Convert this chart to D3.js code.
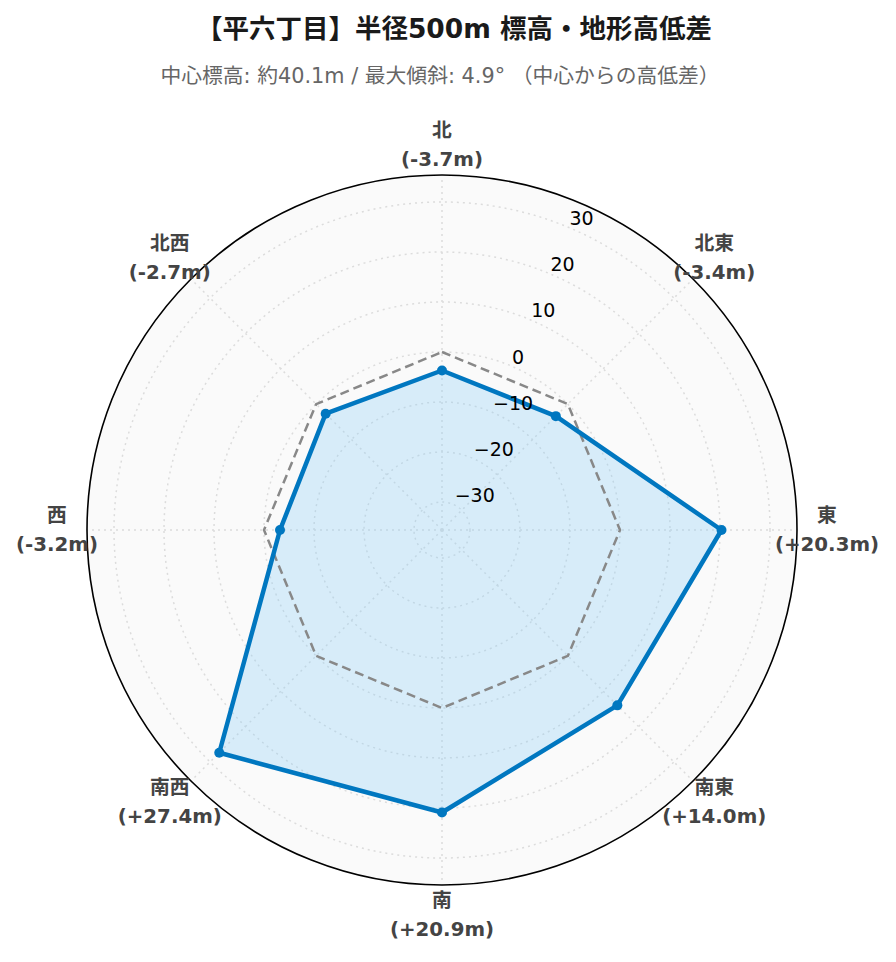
<!DOCTYPE html>
<html>
<head>
<meta charset="utf-8">
<script src="https://cdn.jsdelivr.net/npm/d3@7"></script>
<style>
  html, body { margin: 0; padding: 0; background: #ffffff; }
  svg { display: block; }
</style>
</head>
<body>
<div id="chart"></div>
<script>
// ---- data ----
const titleText = "【平六丁目】半径500m 標高・地形高低差";
const subtitleText = "中心標高: 約40.1m / 最大傾斜: 4.9° （中心からの高低差）";
const directions = ["北", "北東", "東", "南東", "南", "南西", "西", "北西"];
const diffs = [-3.7, -3.4, 20.3, 14.0, 20.9, 27.4, -3.2, -2.7];
const reference = [0, 0, 0, 0, 0, 0, 0, 0];
const radialTicks = [-30, -20, -10, 0, 10, 20, 30];
const radialRange = [-35.6, 35.4];

// ---- layout ----
const W = 896, H = 962;
const cx = 442, cy = 530, R = 355;
const labelR = 385;
const tickAngle = 22.5;
const FONT = "'DejaVu Sans', 'Noto Sans CJK JP', sans-serif";

const svg = d3.select("#chart").append("svg")
  .attr("width", W).attr("height", H);

const r = d3.scaleLinear().domain(radialRange).range([0, R]);
const angle = d3.scalePoint().domain(directions).range([0, 360 - 360 / directions.length]);
const rad = d => (d - 90) * Math.PI / 180;
const px = (dir, v) => cx + r(v) * Math.cos(rad(angle(dir)));
const py = (dir, v) => cy + r(v) * Math.sin(rad(angle(dir)));

// title
svg.append("text")
  .attr("x", 454).attr("y", 28)
  .attr("text-anchor", "middle").attr("dominant-baseline", "central")
  .style("font-family", FONT)
  .style("font-weight", "bold").style("font-size", "26.5px").style("fill", "#1a1a1a")
  .text(titleText);
svg.append("text")
  .attr("x", 440).attr("y", 76)
  .attr("text-anchor", "middle").attr("dominant-baseline", "central")
  .style("font-family", FONT)
  .style("font-size", "20.8px").style("fill", "#666666")
  .text(subtitleText);

const g = svg.append("g");

// background
g.append("circle").attr("cx", cx).attr("cy", cy).attr("r", R).attr("fill", "#fafafa");

// radial grid circles
g.selectAll("circle.grid").data(radialTicks).enter().append("circle")
  .attr("class", "grid")
  .attr("cx", cx).attr("cy", cy).attr("r", d => r(d))
  .attr("fill", "none").attr("stroke", "#dcdcdc").attr("stroke-width", 1.5)
  .attr("stroke-dasharray", "2,4");

// spokes
g.selectAll("line.spoke").data(directions).enter().append("line")
  .attr("class", "spoke")
  .attr("x1", cx).attr("y1", cy)
  .attr("x2", d => px(d, radialRange[1])).attr("y2", d => py(d, radialRange[1]))
  .attr("stroke", "#dcdcdc").attr("stroke-width", 1.5).attr("stroke-dasharray", "2,4");

// fill
const line = d3.line().x(d => d[0]).y(d => d[1]).curve(d3.curveLinearClosed);
const pts = directions.map((d, i) => [px(d, diffs[i]), py(d, diffs[i])]);
const refPts = directions.map((d, i) => [px(d, reference[i]), py(d, reference[i])]);

g.append("path").attr("d", line(pts))
  .attr("fill", "rgb(135,206,250)").attr("fill-opacity", 0.3).attr("stroke", "none");

// reference (0m) dashed
g.append("path").attr("d", line(refPts))
  .attr("fill", "none").attr("stroke", "#888888").attr("stroke-width", 2.5)
  .attr("stroke-dasharray", "9,5");

// data line
g.append("path").attr("d", line(pts))
  .attr("fill", "none").attr("stroke", "#0077c0").attr("stroke-width", 4.5)
  .attr("stroke-linejoin", "round");

g.selectAll("circle.pt").data(pts).enter().append("circle")
  .attr("class", "pt")
  .attr("cx", d => d[0]).attr("cy", d => d[1]).attr("r", 5)
  .attr("fill", "#0077c0");

// outer circle
g.append("circle").attr("cx", cx).attr("cy", cy).attr("r", R)
  .attr("fill", "none").attr("stroke", "#000").attr("stroke-width", 1.6);

// radial tick labels
const ta = (tickAngle - 90) * Math.PI / 180;
g.selectAll("text.rtick").data(radialTicks).enter().append("text")
  .attr("class", "rtick")
  .attr("x", d => cx + r(d) * Math.cos(ta) + 2)
  .attr("y", d => cy + r(d) * Math.sin(ta) - 9)
  .attr("text-anchor", "start").attr("dominant-baseline", "central")
  .style("font-family", "'DejaVu Sans', sans-serif").style("font-size", "19px")
  .style("fill", "#000")
  .text(d => d < 0 ? "\u2212" + Math.abs(d) : String(d));

// angular labels
const fmt = v => "(" + (v > 0 ? "+" : "") + v.toFixed(1) + "m)";
const lab = g.selectAll("g.alabel").data(directions).enter().append("g")
  .attr("class", "alabel")
  .attr("transform", d => {
    const a = rad(angle(d));
    return `translate(${cx + labelR * Math.cos(a)},${cy + labelR * Math.sin(a)})`;
  });
lab.append("text")
  .attr("y", -14.5).attr("text-anchor", "middle").attr("dominant-baseline", "central")
  .style("font-family", FONT)
  .style("font-weight", "bold").style("font-size", "19.8px").style("fill", "#444")
  .text(d => d);
lab.append("text")
  .attr("y", 14.5).attr("text-anchor", "middle").attr("dominant-baseline", "central")
  .style("font-family", FONT)
  .style("font-weight", "bold").style("font-size", "19.8px").style("fill", "#444")
  .text((d, i) => fmt(diffs[i]));
</script>
</body>
</html>
